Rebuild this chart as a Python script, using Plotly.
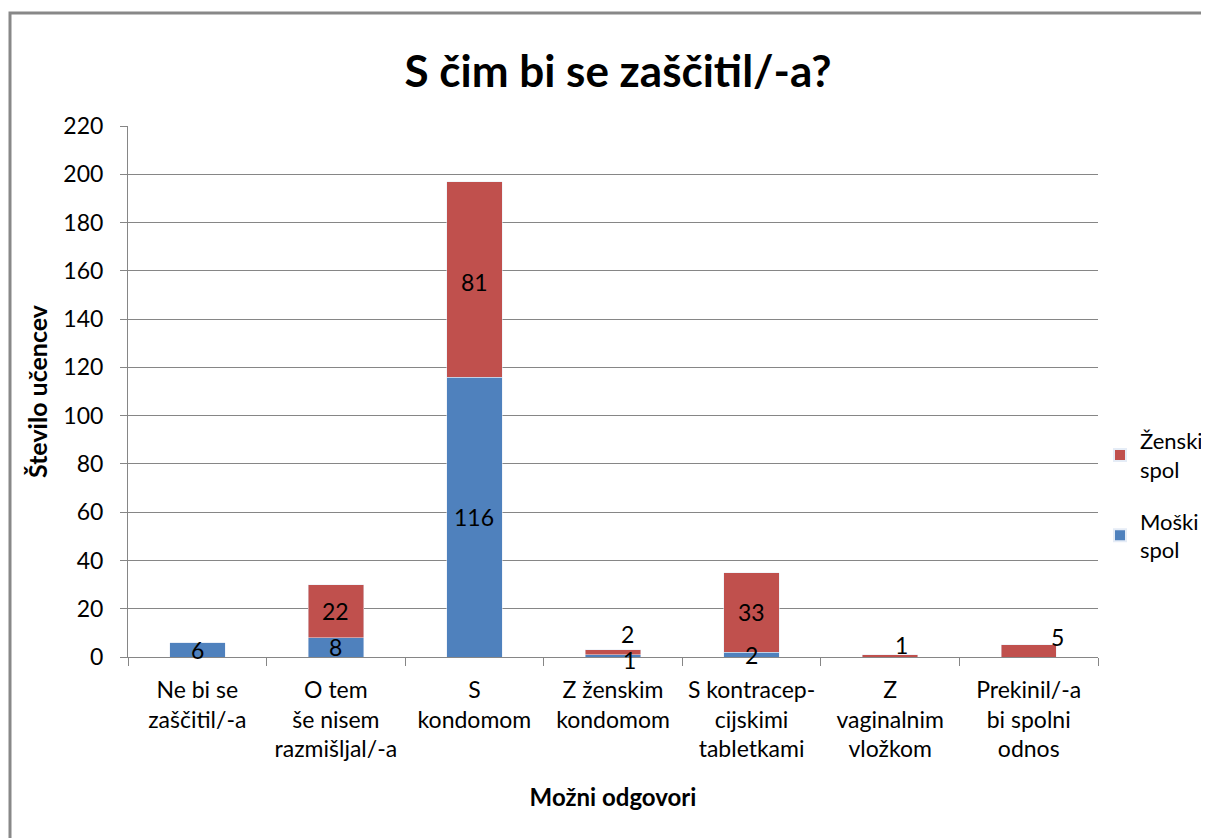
import plotly.graph_objects as go

categories = ["Ne bi se<br>zaščitil/-a", "O tem<br>še nisem<br>razmišljal/-a", "S<br>kondomom",
              "Z ženskim<br>kondomom", "S kontracep-<br>cijskimi<br>tabletkami", "Z<br>vaginalnim<br>vložkom",
              "Prekinil/-a<br>bi spolni<br>odnos"]
moski = [6, 8, 116, 1, 2, 0, 0]
zenski = [0, 22, 81, 2, 33, 1, 5]
y_ticks = [0, 20, 40, 60, 80, 100, 120, 140, 160, 180, 200, 220]

# label pixel offsets (style only)
moski_off = [(0, 0), (0, 0), (0, 0), (16, -4), (0, 0), (0, 0), (0, 0)]
zenski_off = [(0, 0), (0, 0), (0, -3), (14, 18), (0, 0), (11, 11), (29, 14)]

FONT = "Lato"
BLUE = "#4F81BD"
RED = "#C0504D"
FS = 23

fig = go.Figure()
fig.add_trace(go.Bar(x=categories, y=moski, name="Moški<br>spol", marker_color=BLUE, width=0.4,
                     legendgroup="m", legendrank=2))
fig.add_trace(go.Bar(x=categories, y=zenski, name="Ženski<br>spol", marker_color=RED, width=0.4,
                     legendgroup="z", legendrank=1))

ann = []
for i, c in enumerate(categories):
    if moski[i] > 0:
        ann.append(dict(x=c, y=moski[i] / 2, text=str(moski[i]), showarrow=False,
                        xshift=moski_off[i][0], yshift=moski_off[i][1], borderpad=0,
                        font=dict(family=FONT, size=FS, color="#000")))
    if zenski[i] > 0:
        ann.append(dict(x=c, y=moski[i] + zenski[i] / 2, text=str(zenski[i]), showarrow=False,
                        xshift=zenski_off[i][0], yshift=zenski_off[i][1], borderpad=0,
                        font=dict(family=FONT, size=FS, color="#000")))

OFF = 8  # page body offset
W, H = 1209, 838
L, T = 128 - OFF, 126 - OFF
R, B = W - (1098 - OFF), H - (657 - OFF)
pw, ph = W - L - R, H - T - B
frame = dict(type="rect", xref="paper", yref="paper",
             x0=(10 - OFF - L) / pw, x1=(W + 20 - L) / pw,
             y0=-(B + 30) / ph, y1=(657 - 13) / ph,
             line=dict(color="#888888", width=3), fillcolor="rgba(0,0,0,0)", layer="below")

fig.update_layout(
    width=W, height=H,
    margin=dict(l=L, r=R, t=T, b=B, autoexpand=False),
    paper_bgcolor="white", plot_bgcolor="white",
    barmode="stack",
    font=dict(family=FONT, size=FS, color="#000"),
    title=dict(text="<b>S čim bi se zaščitil/-a?</b>", x=(618 - OFF) / W, xref="container", xanchor="center",
               y=1 - (72 - OFF) / H, yanchor="middle", font=dict(family=FONT, size=44)),
    xaxis=dict(type="category", tickson="boundaries", ticks="outside", ticklen=8,
               tickcolor="#868686", showline=True, linecolor="#868686", linewidth=1,
               showgrid=False, tickfont=dict(size=FS), ticklabelstandoff=12,
               title=dict(text="<b>Možni odgovori</b>", font=dict(size=24), standoff=27)),
    yaxis=dict(range=[0, 220], tickvals=y_ticks, ticks="outside", ticklen=7, tickcolor="#868686",
               showline=True, linecolor="#868686", linewidth=1, showgrid=True,
               gridcolor="#868686", gridwidth=1, zeroline=False, tickfont=dict(size=FS),
               ticklabelstandoff=12,
               title=dict(text="<b>Število učencev</b>", font=dict(size=25), standoff=8)),
    legend=dict(x=(1100 - OFF) / W, y=1 - (420 - OFF) / H, xref="container", yref="container",
                xanchor="left", yanchor="top", traceorder="grouped",
                font=dict(size=22), itemsizing="constant", tracegroupgap=20),
    annotations=ann,
    shapes=[frame],
)

fig.write_html("out.html")
